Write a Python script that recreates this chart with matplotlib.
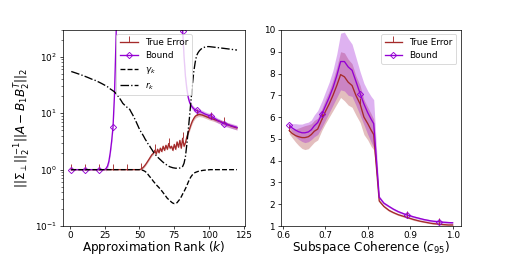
import numpy as np
import matplotlib
matplotlib.use("Agg")
import matplotlib.pyplot as plt

# -------------------------
# Left panel: error vs approximation rank
# -------------------------
rank = list(range(1, 121))

true_error = ([1.0] * 50 +
              [1.02, 1.06, 1.12, 1.2, 1.3, 1.42, 1.55, 1.7, 1.85, 1.95,
               2.2, 1.9, 2.3, 2.0, 2.4, 2.1, 2.6, 2.2, 2.7, 2.3,
               2.9, 2.4, 2.6, 2.2, 2.8, 2.3, 3.1, 2.5, 3.3, 2.4,
               3.6, 2.6, 3.0, 3.8, 4.5, 5.3, 6.3, 7.3, 8.1, 8.8,
               9.2, 9.4, 9.5, 9.4, 9.3, 9.1, 8.9, 8.7, 8.5, 8.3,
               8.15, 8.0, 7.85, 7.7, 7.55, 7.4, 7.25, 7.1, 6.95, 6.8,
               6.65, 6.5, 6.35, 6.2, 6.05, 5.9, 5.8, 5.7, 5.6, 5.5])

bound = ([1.0] * 25 +
         [1.05, 1.15, 1.4, 2.0, 3.2, 5.8, 20, 150, 1500] +
         [1e4] * 45 +
         [1200, 290, 100, 45, 27, 19, 15.5, 13.8, 12.8, 12.0, 11.5,
          11.2, 11.0, 10.8, 10.6, 10.3, 10.0, 9.7, 9.5, 9.3, 9.1,
          9.0, 8.7, 8.4, 8.1, 7.8, 7.5, 7.3, 7.1, 6.9, 6.7,
          6.5, 6.4, 6.3, 6.2, 6.1, 6.0, 5.9, 5.8, 5.7, 5.6])

gamma_k = ([1.0] * 50 +
           [0.99, 0.98, 0.96, 0.93, 0.89, 0.83, 0.77, 0.72, 0.67, 0.62,
            0.58, 0.54, 0.51, 0.48, 0.45, 0.42, 0.39, 0.36, 0.335, 0.31,
            0.295, 0.28, 0.265, 0.255, 0.25, 0.252, 0.26, 0.28, 0.3, 0.33,
            0.37, 0.41, 0.46, 0.52, 0.6, 0.68, 0.75, 0.81, 0.86, 0.89,
            0.91, 0.93, 0.945, 0.955, 0.965, 0.975, 0.98, 0.985, 0.99, 0.995] +
           [1.0] * 20)

r_k = [55, 54, 53, 52, 51, 50, 49, 48, 47, 46,
       45, 44, 43, 42, 41, 40, 39.5, 38.5, 37.5, 36.5,
       35.5, 34.5, 33.5, 32.5, 31.5, 30.5, 29.5, 28.5, 27, 26,
       25, 24, 22.5, 21, 19.5, 18, 16.5, 15, 14.2, 13.5,
       12.8, 12.2, 11.7, 10.5, 9.5, 8.5, 7.6, 6.7, 5.9, 5.2,
       4.7, 4.3, 3.9, 3.5, 3.2, 2.9, 2.7, 2.45, 2.25, 2.05,
       1.9, 1.78, 1.67, 1.58, 1.5, 1.42, 1.35, 1.29, 1.24, 1.19,
       1.15, 1.12, 1.1, 1.08, 1.07, 1.06, 1.06, 1.06, 1.07, 1.09,
       1.14, 1.3, 1.7, 2.8, 5.0, 9.0, 17, 32, 55, 80,
       105, 118, 128, 136, 142, 146, 149, 151, 152, 152,
       151, 150, 149, 148, 147, 146, 145, 144, 143, 142,
       141, 140, 139, 138, 137, 136, 135, 134, 133, 132]

# relative spread of the shaded bands
err_spread = [0.0] * 50 + [0.05] * 35 + [0.08] * 35
bound_spread = [0.0] * 25 + [0.1] * 95

# -------------------------
# Right panel: error vs subspace coherence
# -------------------------
coherence = [0.615, 0.622, 0.630, 0.637, 0.645, 0.652, 0.660, 0.667, 0.674, 0.682,
             0.692, 0.700, 0.709, 0.718, 0.727, 0.736, 0.745, 0.754, 0.763, 0.772,
             0.782, 0.791, 0.800, 0.808, 0.814, 0.827, 0.838, 0.850, 0.860, 0.872,
             0.892, 0.900, 0.908, 0.916, 0.924, 0.932, 0.940, 0.948, 0.955, 0.961,
             0.967, 0.975, 0.983, 0.990, 1.000]
coh_error = [5.38, 5.25, 5.15, 5.10, 5.06, 5.06, 5.10, 5.20, 5.35, 5.45,
             5.90, 6.25, 6.60, 7.00, 7.45, 7.95, 7.85, 7.60, 7.45, 7.00,
             6.60, 6.00, 5.70, 5.40, 5.20, 2.15, 1.90, 1.72, 1.62, 1.52,
             1.40, 1.35, 1.30, 1.26, 1.22, 1.19, 1.16, 1.13, 1.11, 1.10,
             1.09, 1.07, 1.06, 1.05, 1.05]
coh_bound = [5.64, 5.50, 5.40, 5.33, 5.28, 5.28, 5.32, 5.42, 5.60, 5.75,
             6.14, 6.50, 6.90, 7.35, 7.90, 8.55, 8.55, 8.30, 8.15, 7.65,
             7.08, 6.60, 6.20, 5.90, 5.70, 2.32, 2.05, 1.90, 1.78, 1.66,
             1.51, 1.47, 1.42, 1.38, 1.34, 1.30, 1.27, 1.24, 1.22, 1.21,
             1.20, 1.18, 1.17, 1.16, 1.15]
coh_error_std = [0.15, 0.2, 0.3, 0.4, 0.5, 0.55, 0.55, 0.5, 0.5, 0.5,
                 0.5, 0.55, 0.6, 0.7, 0.85, 1.05, 1.1, 1.05, 1.0, 0.9,
                 0.85, 0.8, 0.75, 0.75, 0.7, 0.06, 0.05, 0.05, 0.04, 0.04,
                 0.04, 0.04, 0.04, 0.04, 0.03, 0.03, 0.03, 0.03, 0.03, 0.03,
                 0.03, 0.03, 0.03, 0.03, 0.03]
coh_bound_std = [0.1, 0.2, 0.3, 0.35, 0.4, 0.45, 0.45, 0.45, 0.5, 0.55,
                 0.6, 0.65, 0.7, 0.8, 1.0, 1.3, 1.35, 1.3, 1.2, 1.1,
                 1.0, 0.95, 1.0, 1.05, 1.1, 0.08, 0.06, 0.05, 0.05, 0.05,
                 0.05, 0.05, 0.05, 0.05, 0.05, 0.05, 0.05, 0.05, 0.05, 0.05,
                 0.05, 0.05, 0.05, 0.05, 0.05]

c_err = "brown"
c_bnd = "darkviolet"
label_fs = 13.5

fig = plt.figure(figsize=(8, 4), dpi=64)
ax1 = fig.add_axes([0.123, 0.117, 0.356, 0.766])
ax2 = fig.add_axes([0.549, 0.117, 0.351, 0.766])

# left
k = np.array(rank)
te = np.array(true_error)
bd = np.array(bound)
es = np.array(err_spread)
bs = np.array(bound_spread)
ax1.fill_between(k, te * (1 - es), te * (1 + es), color=c_err, alpha=0.3, lw=0)
ax1.plot(k, te, color=c_err, marker=2, markevery=10, ms=7, label="True Error")
ax1.fill_between(k, bd * (1 - bs), bd * (1 + bs), color=c_bnd, alpha=0.3, lw=0)
ax1.plot(k, bd, color=c_bnd, marker="D", markevery=10, ms=5, fillstyle="none", label="Bound")
ax1.plot(k, gamma_k, "k--", label=r"$\gamma_k$")
ax1.plot(k, r_k, "k-.", label=r"$r_k$")
ax1.set_yscale("log")
ax1.set_ylim(0.1, 300)
ax1.set_xticks([0, 25, 50, 75, 100, 125])
ax1.tick_params(axis="x", pad=2)
ax1.set_xlabel("Approximation Rank ($k$)", fontsize=label_fs, labelpad=-0.5)
ax1.set_ylabel(r"$||\Sigma_\perp||_2^{-1}||A - B_1B_2^T||_2$", fontsize=label_fs, labelpad=2)
ax1.legend(loc="upper center")

# right
x = np.array(coherence)
ce = np.array(coh_error)
cb = np.array(coh_bound)
ax2.fill_between(x, ce - np.array(coh_error_std), ce + np.array(coh_error_std),
                 color=c_err, alpha=0.3, lw=0)
ax2.plot(x, ce, color=c_err, marker=2, markevery=10, ms=7, label="True Error")
ax2.fill_between(x, cb - np.array(coh_bound_std), cb + np.array(coh_bound_std),
                 color=c_bnd, alpha=0.3, lw=0)
ax2.plot(x, cb, color=c_bnd, marker="D", markevery=10, ms=5, fillstyle="none", label="Bound")
ax2.set_ylim(1, 10)
ax2.set_yticks(range(1, 11))
ax2.tick_params(axis="x", pad=2)
ax2.set_xlabel("Subspace Coherence ($c_{95}$)", fontsize=label_fs, labelpad=-0.5)
ax2.legend(loc="upper right")

fig.savefig("out.png", dpi=64)
